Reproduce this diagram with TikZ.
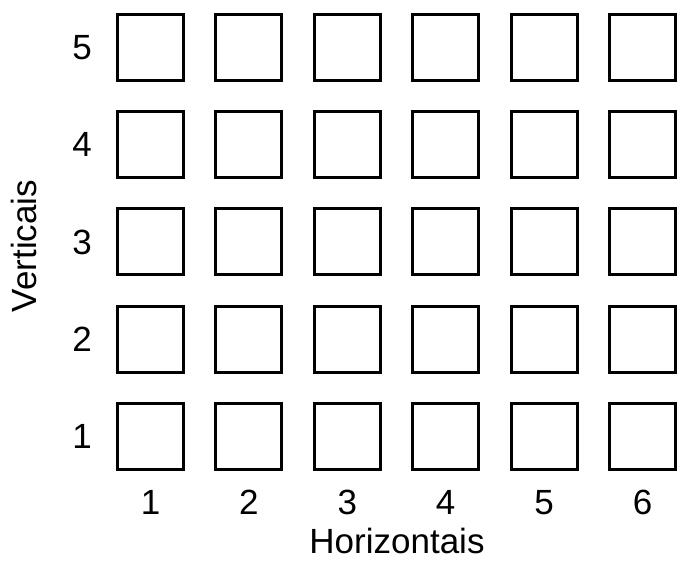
\documentclass[tikz,border=0pt]{standalone}
\usepackage{fontspec}
\setmainfont{Liberation Sans}

\begin{document}
\begin{tikzpicture}[x=0.5pt,y=-0.5pt,
  cell/.style={draw,line width=1.5pt,minimum size=33pt,inner sep=0pt},
  lab/.style={font=\fontsize{17.5}{20}\selectfont}]
\useasboundingbox (0,0) rectangle (681,561);

\foreach \c in {1,...,6}{
  \foreach \r in {1,...,5}{
    \node[cell] (s\c\r) at ({150.5+98.4*(\c-1)},{436.5-97.25*(\r-1)}) {};
  }
  \node[lab] (h\c) at ({150.5+98.4*(\c-1)},502.5) {\c};
}
\foreach \r in {1,...,5}
  \node[lab] (v\r) at (82,{436.5-97.25*(\r-1)}) {\r};

\node[lab,anchor=base,inner sep=0pt] (xlab) at (397,553) {Horizontais};
\node[lab,rotate=90] (ylab) at (23.5,246) {Verticais};
\end{tikzpicture}
\end{document}
